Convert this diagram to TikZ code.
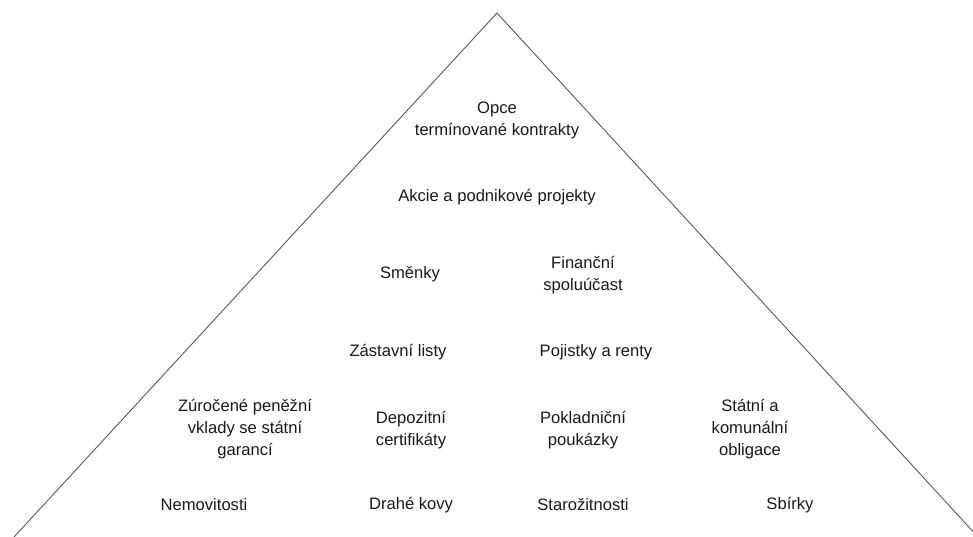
\documentclass[tikz,border=0pt]{standalone}
\usepackage{fontspec}
\setmainfont{Liberation Sans}
\usepackage{tikz}
\usetikzlibrary{positioning}

\tikzset{
    invest/.style={align=center, text=black!90, font=\fontsize{16.6}{22}\selectfont, inner sep=0pt}
}

\begin{document}
\begin{tikzpicture}[x=1pt, y=-1pt]
        \useasboundingbox (0,0) rectangle (973,536);
        \clip (0,0) rectangle (973,536);
        
        \coordinate (apex) at (497, 13);
        \coordinate (lbase) at (14, 537);
        \coordinate (rbase) at (978, 537);
        
        \draw[black!65, line width=0.9pt] (lbase) -- (apex) -- (rbase);
        
        % top levels
        \node[invest] (opce) at (497, 120) {Opce\\termínované kontrakty};
        \node[invest] (akcie) at (497, 197) {Akcie a podnikové projekty};
        
        \node[invest] (smenky) at (410, 274) {Směnky};
        \node[invest] (ucast) at (583, 275) {Finanční\\spoluúčast};
        
        \node[invest] (zastav) at (398, 352) {Zástavní listy};
        \node[invest] (pojist) at (596, 352) {Pojistky a renty};
        
        % lower levels
        \node[invest] (vklady) at (245, 429) {Zúročené peněžní\\vklady se státní\\garancí};
        \node[invest] (depo) at (411, 430) {Depozitní\\certifikáty};
        \node[invest] (pokl) at (583, 430) {Pokladniční\\poukázky};
        \node[invest] (oblig) at (750, 429) {Státní a\\komunální\\obligace};
        
        \node[invest] (nemo) at (204, 505) {Nemovitosti};
        \node[invest] (kovy) at (411, 505) {Drahé kovy};
        \node[invest] (staro) at (583, 505) {Starožitnosti};
        \node[invest] (sbirky) at (790, 505) {Sbírky};
        
    \end{tikzpicture}
\end{document}
